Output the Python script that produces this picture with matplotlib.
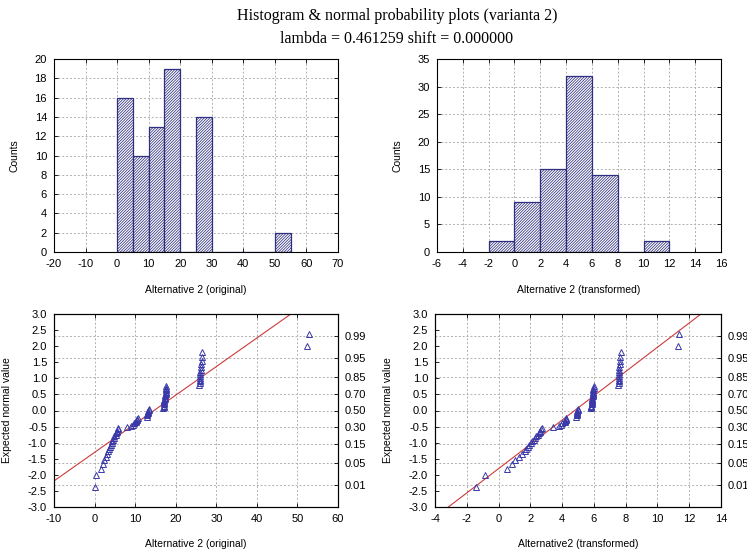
import numpy as np
import matplotlib
matplotlib.use("Agg")
import matplotlib.pyplot as plt
from statistics import NormalDist

# ---------------- data ----------------
title_line1 = "Histogram & normal probability plots (varianta 2)"
title_line2 = "lambda = 0.461259 shift = 0.000000"
boxcox_lambda = 0.461259
boxcox_shift = 0.0

original_values = [
    0.1, 0.35,
    1.6, 2.0, 2.3, 2.7, 3.1, 3.4, 3.6, 3.8, 4.0,
    4.2, 4.4, 4.6, 4.8, 4.9,
    5.2, 5.4, 5.5, 5.6, 5.7, 5.8, 7.9, 8.9, 9.4, 9.6,
    10.2, 10.3, 10.4, 10.5, 10.6,
    12.9, 13.0, 13.0, 13.1, 13.2, 13.2, 13.3, 13.4,
    16.9, 17.0, 17.0, 17.1, 17.1, 17.2, 17.2, 17.2, 17.3, 17.3,
    17.4, 17.4, 17.5, 17.5, 17.5, 17.6, 17.6, 17.7, 17.7,
    25.8, 25.9, 25.9, 26.0, 26.0, 26.0, 26.1, 26.1, 26.2, 26.2,
    26.3, 26.4, 26.5, 26.6,
    52.3, 52.8,
]

hist_bins_original = [0, 5, 10, 15, 20, 25, 30, 35, 40, 45, 50, 55]
hist_bins_transformed = [-2, 0, 2, 4, 6, 8, 10, 12]

# reference lines (mean, sd) as drawn in the probability plots
ref_line_original = (14.64, 11.25)
ref_line_transformed = (4.79, 2.65)

prob_ticks = [0.01, 0.05, 0.15, 0.30, 0.50, 0.70, 0.85, 0.95, 0.99]
prob_labels = ["0.01", "0.05", "0.15", "0.30", "0.50", "0.70", "0.85", "0.95", "0.99"]

hist_orig_xticks = list(range(-20, 71, 10))
hist_orig_yticks = list(range(0, 21, 2))
hist_tr_xticks = list(range(-6, 17, 2))
hist_tr_yticks = list(range(0, 36, 5))
prob_orig_xticks = list(range(-10, 61, 10))
prob_tr_xticks = list(range(-4, 15, 2))
prob_yticks = [-3.0, -2.5, -2.0, -1.5, -1.0, -0.5, 0.0, 0.5, 1.0, 1.5, 2.0, 2.5, 3.0]

xlabel_hist_orig = "Alternative 2 (original)"
xlabel_hist_tr = "Alternative 2 (transformed)"
xlabel_prob_orig = "Alternative 2 (original)"
xlabel_prob_tr = "Alternative2 (transformed)"
ylabel_hist = "Counts"
ylabel_prob = "Expected normal value"

# ---------------- derived ----------------
orig = np.array(original_values)
trans = ((orig + boxcox_shift) ** boxcox_lambda - 1.0) / boxcox_lambda
n = len(orig)
nd = NormalDist()
normal_scores = np.array([nd.inv_cdf((i - 0.375) / (n + 0.25)) for i in range(1, n + 1)])

# ---------------- style ----------------
SANS = "Liberation Sans"
SERIF = "Liberation Serif"
plt.rcParams["font.family"] = SANS
plt.rcParams["hatch.linewidth"] = 0.55
plt.rcParams["axes.unicode_minus"] = False
FS = 8
NAVY = "#2f2f80"
MARK = "#3838a8"
RED = "#cc3a3a"
GRID = dict(color="#b0b0b0", linestyle=(0, (2, 2)), linewidth=0.7)

W, H = 747, 550
fig = plt.figure(figsize=(W / 100, H / 100), dpi=100)


def box(x0, x1, y0, y1):
    return [x0 / W, 1 - y1 / H, (x1 - x0) / W, (y1 - y0) / H]


def style_axes(ax):
    for s in ax.spines.values():
        s.set_linewidth(0.8)
        s.set_color("black")
    ax.tick_params(direction="in", length=3, width=0.6, labelsize=FS, pad=5,
                   top=True, right=True)


fig.text(397 / W, 1 - 16 / H, title_line1, ha="center", va="center",
         fontsize=11.5, family=SERIF)
fig.text(397 / W, 1 - 39 / H, title_line2, ha="center", va="center",
         fontsize=11.5, family=SERIF)


def histogram(ax, data, bins, xticks, yticks, xlabel):
    ax.set_axisbelow(True)
    ax.hist(data, bins=bins, facecolor="white", edgecolor=NAVY, hatch="////////////",
            linewidth=0.9)
    ax.set_xlim(xticks[0], xticks[-1])
    ax.set_ylim(yticks[0], yticks[-1])
    ax.set_xticks(xticks)
    ax.set_yticks(yticks)
    ax.grid(True, **GRID)
    style_axes(ax)
    ax.set_xlabel(xlabel, fontsize=FS - 0.5)
    ax.set_ylabel(ylabel_hist, fontsize=FS - 0.5)
    ax.xaxis.set_label_coords(0.5, -0.17)
    ax.yaxis.set_label_coords(-0.123, 0.5)


def probplot(ax, data, xticks, line, xlabel):
    ax.set_axisbelow(True)
    ax.set_xlim(xticks[0], xticks[-1])
    ax.set_ylim(-3, 3)
    ax.set_xticks(xticks)
    ax.set_yticks(prob_yticks)
    ax.set_yticklabels([f"{v:.1f}" for v in prob_yticks])
    ax.grid(True, axis="x", **GRID)
    for p in prob_ticks:
        ax.axhline(nd.inv_cdf(p), zorder=0, **GRID)
    m, s = line
    xs = np.array([xticks[0], xticks[-1]])
    ax.plot(xs, (xs - m) / s, color=RED, linewidth=0.8, zorder=2)
    ax.plot(data, normal_scores, linestyle="none", marker="^", markersize=4,
            markerfacecolor="none", markeredgecolor=MARK, markeredgewidth=0.7,
            zorder=3)
    style_axes(ax)
    ax.tick_params(right=False)
    ax.set_xlabel(xlabel, fontsize=FS - 0.5)
    ax.set_ylabel(ylabel_prob, fontsize=FS - 0.5)
    ax.xaxis.set_label_coords(0.5, -0.165)
    ax.yaxis.set_label_coords(-0.148, 0.5)
    ax2 = ax.twinx()
    ax2.set_ylim(-3, 3)
    ax2.set_yticks([nd.inv_cdf(p) for p in prob_ticks])
    ax2.set_yticklabels(prob_labels)
    ax2.tick_params(direction="in", length=3, width=0.6, labelsize=FS, pad=5)
    for s in ax2.spines.values():
        s.set_linewidth(0.8)


ax1 = fig.add_axes(box(54, 338, 59, 252))
histogram(ax1, orig, hist_bins_original, hist_orig_xticks, hist_orig_yticks, xlabel_hist_orig)
ax2 = fig.add_axes(box(437, 721, 59, 252))
histogram(ax2, trans, hist_bins_transformed, hist_tr_xticks, hist_tr_yticks, xlabel_hist_tr)
ax3 = fig.add_axes(box(54, 338, 314, 507))
probplot(ax3, orig, prob_orig_xticks, ref_line_original, xlabel_prob_orig)
ax4 = fig.add_axes(box(435, 721, 314, 507))
probplot(ax4, trans, prob_tr_xticks, ref_line_transformed, xlabel_prob_tr)

fig.savefig("out.png", dpi=100)
